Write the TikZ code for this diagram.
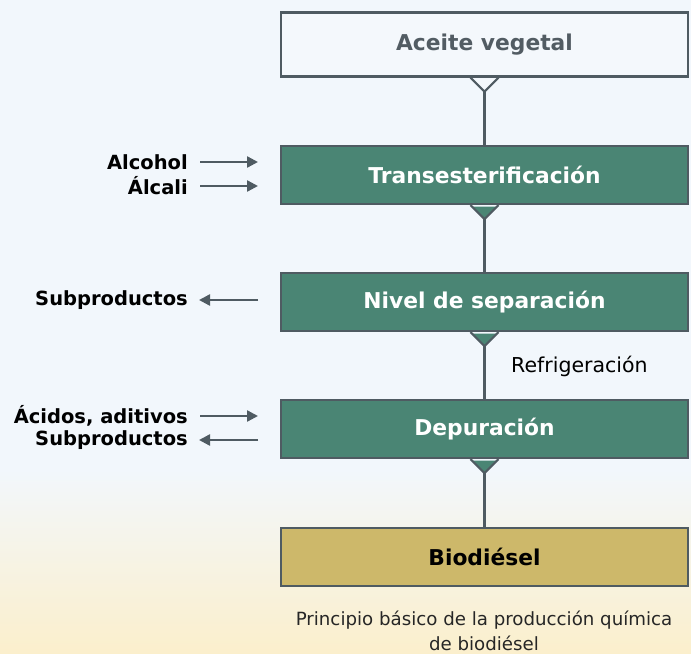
\documentclass[tikz,border=0pt]{standalone}
\usepackage{fontspec}
\setmainfont{DejaVu Sans}
\usetikzlibrary{calc,arrows.meta}
\definecolor{bgc}{HTML}{F2F7FC}
\definecolor{bgy}{HTML}{FBEFCC}
\definecolor{bordc}{HTML}{4F5B62}
\definecolor{greenc}{HTML}{4A8574}
\definecolor{goldc}{HTML}{CDB86A}
\definecolor{whitec}{HTML}{F4F8FC}
\definecolor{grayt}{HTML}{525C63}
\tikzset{
  stagebox/.style={draw=bordc, line width=2.2bp, minimum width=407bp, minimum height=58bp, inner sep=0pt,
    font=\fontsize{21.8bp}{26bp}\selectfont\bfseries},
  sidelbl/.style={anchor=east, inner sep=0pt, font=\fontsize{19.5bp}{23bp}\selectfont\bfseries},
  conn/.style={draw=bordc, line width=2.2bp},
  arr/.style={draw=bordc, line width=2.4bp, -{Triangle[length=11bp,width=11bp]}},
  plain/.style={inner sep=0pt, font=\fontsize{18.2bp}{25bp}\selectfont}
}
\newcommand{\notch}[2]{%
  \fill[#2] ($(#1.south)+(-12.5,1.4)$) -- ($(#1.south)+(12.5,1.4)$) -- ($(#1.south)+(0,14)$) -- cycle;
  \draw[bordc, line width=2.2bp] ($(#1.south)+(-14,0)$) -- ($(#1.south)+(0,14)$) coordinate (#1tip) -- ($(#1.south)+(14,0)$);
}
\begin{document}
\begin{tikzpicture}[x=1bp,y=-1bp]
\useasboundingbox (0,0) rectangle (691,654);
\fill[bgc] (0,0) rectangle (691,654);
\shade[top color=bgc, bottom color=bgy] (0,470) rectangle (691,654);

\node[stagebox, fill=whitec, text=grayt, minimum height=64bp] (ace) at (484.5,44.5) {Aceite vegetal};
\notch{ace}{whitec}
\node[stagebox, fill=greenc, text=white] (tra) at (484.5,175) {Transesterificación};
\notch{tra}{greenc}
\node[stagebox, fill=greenc, text=white] (niv) at (484.5,302) {Nivel de separación};
\notch{niv}{greenc}
\node[stagebox, fill=greenc, text=white] (dep) at (484.5,429) {Depuración};
\notch{dep}{greenc}
\node[stagebox, fill=goldc, text=black] (bio) at (484.5,557) {Biodiésel};

\draw[conn] (acetip) -- (tra.north);
\draw[conn] (tratip) -- (niv.north);
\draw[conn] (nivtip) -- (dep.north);
\draw[conn] (deptip) -- (bio.north);

\node[inner sep=0pt, font=\fontsize{20.5bp}{25bp}\selectfont, anchor=west] (ref) at (511,366) {Refrigeración};

\node[sidelbl] (alc) at (188,162) {Alcohol};
\node[sidelbl] (alk) at (188,186) {Álcali};
\node[sidelbl] (sub1) at (188,300) {Subproductos};
\node[sidelbl] (aci) at (188,416) {Ácidos, aditivos};
\node[sidelbl] (sub2) at (188,440) {Subproductos};

\coordinate (alcE) at (258,162);
\coordinate (alkE) at (258,186);
\coordinate (sub1E) at (258,300);
\coordinate (aciE) at (258,416);
\coordinate (sub2E) at (258,440);
\draw[arr] ([xshift=12bp]alc.east |- alcE) -- (alcE);
\draw[arr] ([xshift=12bp]alk.east |- alkE) -- (alkE);
\draw[arr] (sub1E) -- ([xshift=11bp]sub1.east |- sub1E);
\draw[arr] ([xshift=12bp]aci.east |- aciE) -- (aciE);
\draw[arr] (sub2E) -- ([xshift=11bp]sub2.east |- sub2E);

\node[plain, align=center, text=black!85] (cap) at (484,631) {Principio básico de la producción química\\de biodiésel};
\end{tikzpicture}
\end{document}
